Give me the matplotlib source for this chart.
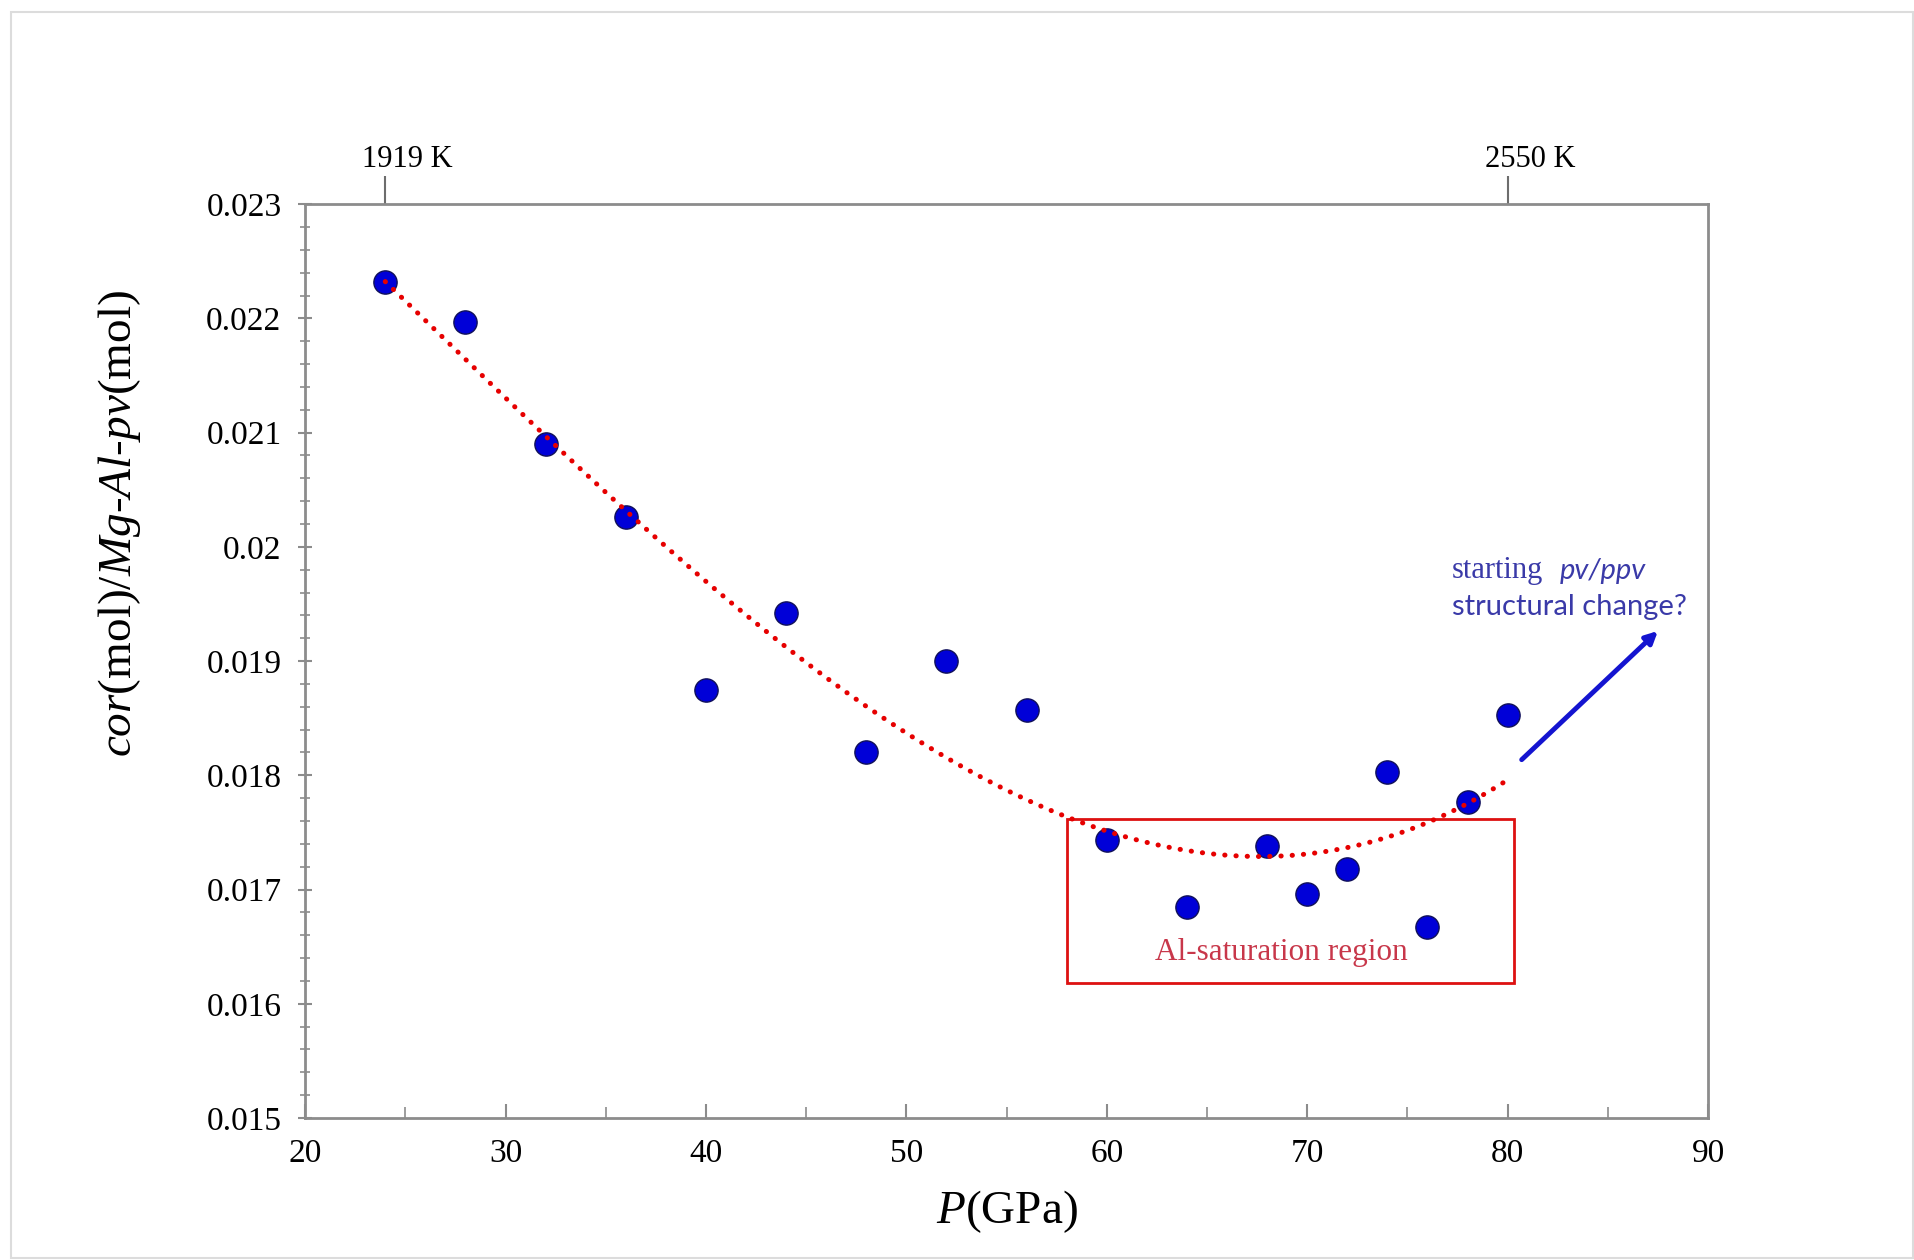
import numpy as np
import matplotlib
matplotlib.use('Agg')
import matplotlib.pyplot as plt
import matplotlib.transforms as mtransforms
from matplotlib.patches import Rectangle
from matplotlib.ticker import MultipleLocator, AutoMinorLocator

# ── Data ──────────────────────────────────────────────────────────
pressure = [24, 28, 32, 36, 40, 44, 48, 52, 56, 60, 64, 68, 70, 72, 74, 76, 78, 80]
ratio = [0.02232, 0.02197, 0.02090, 0.02026, 0.01875, 0.01942, 0.01820, 0.01900,
         0.01857, 0.01743, 0.01685, 0.01738, 0.01696, 0.01718, 0.01803, 0.01667,
         0.01777, 0.01853]

y_ticks = [0.015, 0.016, 0.017, 0.018, 0.019, 0.020, 0.021, 0.022, 0.023]
y_tick_labels = ['0.015', '0.016', '0.017', '0.018', '0.019', '0.02',
                 '0.021', '0.022', '0.023']

temp_ticks = [24, 80]
temp_labels = ['1919 K', '2550 K']

# polynomial trendline over the data (3rd order)
coef = np.polyfit(pressure, ratio, 3)
p_fit = np.linspace(min(pressure), max(pressure), 200)
r_fit = np.polyval(coef, p_fit)

# ── Figure ────────────────────────────────────────────────────────
plt.rcParams['mathtext.fontset'] = 'custom'
plt.rcParams['mathtext.rm'] = 'Liberation Serif'
plt.rcParams['mathtext.it'] = 'Liberation Serif:italic'
SERIF = 'Liberation Serif'

fig = plt.figure(figsize=(19.14, 12.60), dpi=100)
ax = fig.add_axes([0.1594, 0.1127, 0.8924 - 0.1594, 0.838 - 0.1127])

# light frame around the whole picture
fig.patches.append(Rectangle((11 / 1914, 2 / 1260), 1 - 12 / 1914, 1 - 14 / 1260,
                             transform=fig.transFigure, fill=False,
                             edgecolor='#dcdcdc', lw=1.5))

ax.scatter(pressure, ratio, s=280, color='#0000d8', edgecolors='#10105a',
           linewidths=1.0, zorder=3)
ax.plot(p_fit, r_fit, color='#e60000', lw=3.6, ls=(0, (0.05, 2.2)),
        dash_capstyle='round', zorder=4)

ax.set_xlim(20, 90)
ax.set_ylim(0.015, 0.023)
ax.xaxis.set_major_locator(MultipleLocator(10))
ax.xaxis.set_minor_locator(AutoMinorLocator(2))
ax.set_yticks(y_ticks)
ax.set_yticklabels(y_tick_labels)
ax.yaxis.set_minor_locator(AutoMinorLocator(5))

for s in ax.spines.values():
    s.set_color('#8c8c8c')
    s.set_linewidth(2)

ax.tick_params(axis='x', which='both', direction='in', color='#8c8c8c',
               labelsize=24, pad=15, top=False)
ax.tick_params(axis='x', which='major', length=10, width=1.5)
ax.tick_params(axis='x', which='minor', length=8, width=1.2)
ax.tick_params(axis='y', which='both', direction='inout', color='#8c8c8c',
               labelsize=24, pad=12, right=False)
ax.tick_params(axis='y', which='major', length=10, width=1.5)
ax.tick_params(axis='y', which='minor', length=7, width=1.2)
for lab in ax.get_xticklabels() + ax.get_yticklabels():
    lab.set_fontfamily(SERIF)

ax.set_xlabel(r'$P$(GPa)', fontsize=34, fontfamily=SERIF, va='center')
ax.xaxis.set_label_coords(0.5, -0.102)
ax.set_ylabel(r'$cor$(mol)/$Mg$-$Al$-$pv$(mol)', fontsize=34, fontfamily=SERIF,
              va='center', ha='center')
ax.yaxis.set_label_coords(-0.132, 0.651)

# temperature ticks on top
sec = ax.secondary_xaxis('top')
sec.set_xticks(temp_ticks)
sec.set_xticklabels(temp_labels, fontsize=22, fontfamily=SERIF)
sec.tick_params(direction='out', length=20, width=1.5, color='#6d6d6d', pad=2)
sec.spines['top'].set_visible(False)
sec.get_xticklines()[1].set_color('#7a9cb8')
offset = mtransforms.ScaledTranslation(16 / 72, 0, fig.dpi_scale_trans)
for lab in sec.get_xticklabels():
    lab.set_transform(lab.get_transform() + offset)

# saturation box
ax.add_patch(Rectangle((58, 0.01618), 80.3 - 58, 0.01762 - 0.01618, fill=False,
                       edgecolor='#dd1111', lw=2, zorder=2))
ax.text(68.7, 0.01645, 'Al-saturation region', fontsize=22.5, fontfamily=SERIF,
        color='#c8374a', ha='center', va='center')

# structural change arrow and note
ax.annotate('', xy=(87.6, 0.01928), xytext=(80.6, 0.01812),
            arrowprops=dict(arrowstyle='-|>,head_length=0.7,head_width=0.35',
                            color='#1414d0', lw=3.5))
ax.text(77.2, 0.01979, 'starting', fontsize=22, fontfamily=SERIF,
        color='#3a3aa8', ha='left', va='center')
ax.text(82.6, 0.01979, 'pv/ppv', fontsize=21, fontfamily='Lato', style='italic',
        color='#3a3aa8', ha='left', va='center')
ax.text(77.2, 0.01947, 'structural change?', fontsize=21, fontfamily='Lato',
        color='#3a3aa8', ha='left', va='center')

fig.savefig('out.png', dpi=100)
